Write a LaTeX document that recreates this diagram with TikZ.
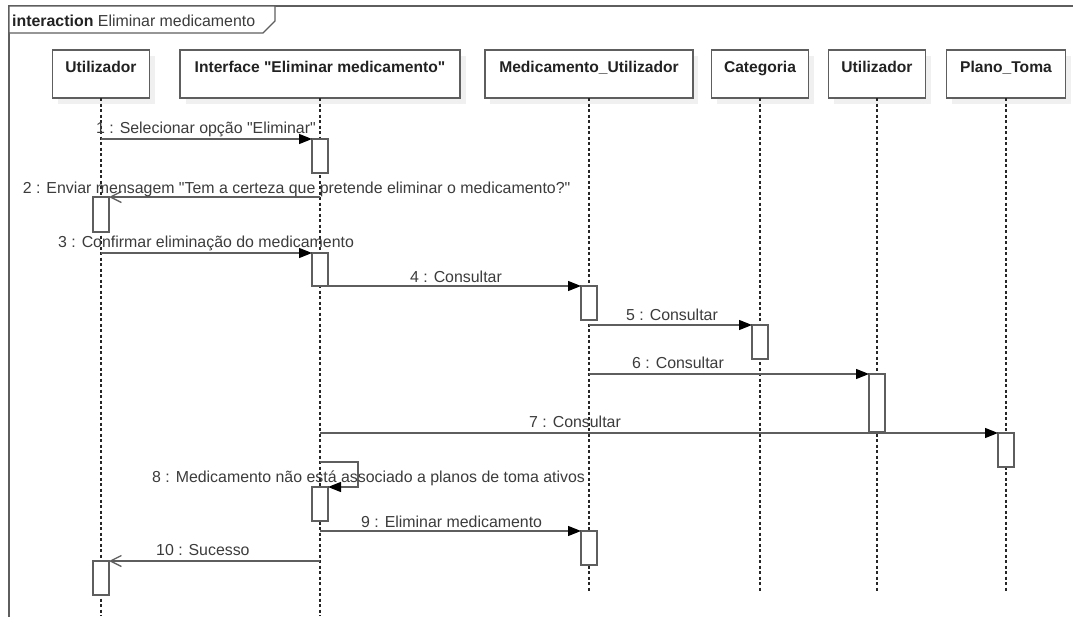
\documentclass[tikz,border=0pt]{standalone}
\usepackage{fontspec}
\setmainfont{Liberation Sans}[Ligatures=TeXOff]
\usetikzlibrary{arrows.meta}
\definecolor{ln}{HTML}{5E5E5E}
\definecolor{tx}{HTML}{3C3C3C}
\definecolor{hx}{HTML}{222222}
\begin{document}
\begin{tikzpicture}[x=1pt,y=-1pt,
  every node/.style={font=\fontsize{15.9}{18}\selectfont, text=tx},
  headbox/.style={draw=ln, line width=1.3pt, fill=white, minimum height=48pt, inner sep=0pt, outer sep=0pt, anchor=north},
  shadowbox/.style={fill=black!6, draw=none},
  headtxt/.style={anchor=base, inner sep=0pt, text=hx, font=\fontsize{15.6}{18}\selectfont\bfseries},
  lifeline/.style={draw=black!85, line width=1.2pt, dash pattern=on 3pt off 2.5pt},
  act/.style={draw=ln, line width=1.3pt, fill=white, minimum width=16pt, inner sep=0pt, outer sep=0pt, anchor=north},
  msg/.style={draw=ln, line width=1.3pt, -{Triangle[length=13pt,width=10pt,color=black]}},
  ret/.style={draw=ln, line width=1.3pt, -{Straight Barb[length=11pt,width=11pt]}},
  lbl/.style={anchor=base west, inner sep=0pt}
]
\useasboundingbox (0,0) rectangle (1073,616);
\clip (0,0) rectangle (1073,616);
\fill[white] (0,0) rectangle (1073,616);

% frame
\draw[draw=ln, line width=1.3pt] (9,640) -- (9,6) -- (1090,6);
\draw[draw=ln, line width=1.2pt, fill=white] (9,6) -- (275,6) -- (275,21) -- (263,33) -- (9,33) -- cycle;
\node[lbl, text=hx] (title) at (12,26) {\textbf{interaction} {\color{tx}Eliminar medicamento}};

% heads
\fill[shadowbox] (58,56) rectangle (155,104);
\node[headbox, minimum width=97pt] (hU) at (101,50) {};
\node[headtxt] (tU) at (101,72) {Utilizador};

\fill[shadowbox] (186,56) rectangle (466,104);
\node[headbox, minimum width=280pt] (hI) at (320,50) {};
\node[headtxt] (tI) at (320,72) {Interface "Eliminar medicamento"};

\fill[shadowbox] (490,56) rectangle (698,104);
\node[headbox, minimum width=208pt] (hM) at (589,50) {};
\node[headtxt] (tM) at (589,72) {Medicamento\_Utilizador};

\fill[shadowbox] (717,56) rectangle (814,104);
\node[headbox, minimum width=97pt] (hC) at (760,50) {};
\node[headtxt] (tC) at (760,72) {Categoria};

\fill[shadowbox] (834,56) rectangle (931,104);
\node[headbox, minimum width=97pt] (hU2) at (877,50) {};
\node[headtxt] (tU2) at (877,72) {Utilizador};

\fill[shadowbox] (952,56) rectangle (1071,104);
\node[headbox, minimum width=119pt] (hP) at (1006,50) {};
\node[headtxt] (tP) at (1006,72) {Plano\_Toma};

% lifelines
\coordinate (eU) at (101,616);
\coordinate (eI) at (320,616);
\coordinate (eM) at (589,591);
\coordinate (eC) at (760,591);
\coordinate (eU2) at (877,591);
\coordinate (eP) at (1006,591);
\draw[lifeline] (hU.south) -- (eU);
\draw[lifeline] (hI.south) -- (eI);
\draw[lifeline] (hM.south) -- (eM);
\draw[lifeline] (hC.south) -- (eC);
\draw[lifeline] (hU2.south) -- (eU2);
\draw[lifeline] (hP.south) -- (eP);

% activations
\node[act, minimum height=34pt] (a1) at (320,139) {};
\node[act, minimum height=35pt] (a2) at (101,197) {};
\node[act, minimum height=33pt] (a3) at (320,253) {};
\node[act, minimum height=34pt] (a4) at (589,286) {};
\node[act, minimum height=34pt] (a5) at (760,325) {};
\node[act, minimum height=58pt] (a6) at (877,374) {};
\node[act, minimum height=34pt] (a7) at (1006,433) {};
\node[act, minimum height=34pt] (a8) at (320,487) {};
\node[act, minimum height=34pt] (a9) at (589,531) {};
\node[act, minimum height=34pt] (a10) at (101,561) {};

% messages
\coordinate (s1) at (101,139);
\coordinate (s2) at (320,197);
\coordinate (s3) at (101,253);
\coordinate (s5) at (589,325);
\coordinate (s6) at (589,374);
\coordinate (s7) at (320,433);
\coordinate (s8) at (320,462);
\coordinate (s8b) at (358,487);
\coordinate (s9) at (320,531);
\coordinate (s10) at (320,561);
\draw[msg] (s1) -- (a1.north west);
\draw[ret] (s2) -- (a2.north east);
\draw[msg] (s3) -- (a3.north west);
\draw[msg] (a3.south east) -- (a4.north west);
\draw[msg] (s5) -- (a5.north west);
\draw[msg] (s6) -- (a6.north west);
\draw[msg] (s7) -- (a7.north west);
\draw[msg] (s8) -| (s8b) -- (a8.north east);
\draw[msg] (s9) -- (a9.north west);
\draw[ret] (s10) -- (a10.north east);

% labels
\node[lbl] (l1) at (96,133) {1 : Selecionar opção "Eliminar"};
\node[lbl] (l2) at (22.7,193) {2 : Enviar mensagem "Tem a certeza que pretende eliminar o medicamento?"};
\node[lbl] (l3) at (58,247) {3 : Confirmar eliminação do medicamento};
\node[lbl] (l4) at (410,282) {4 : Consultar};
\node[lbl] (l5) at (626,320) {5 : Consultar};
\node[lbl] (l6) at (632,368) {6 : Consultar};
\node[lbl] (l7) at (529,427) {7 : Consultar};
\node[lbl] (l8) at (152,482) {8 : Medicamento não está associado a planos de toma ativos};
\node[lbl] (l9) at (361,527) {9 : Eliminar medicamento};
\node[lbl] (l10) at (156,555) {10 : Sucesso};
\end{tikzpicture}
\end{document}
